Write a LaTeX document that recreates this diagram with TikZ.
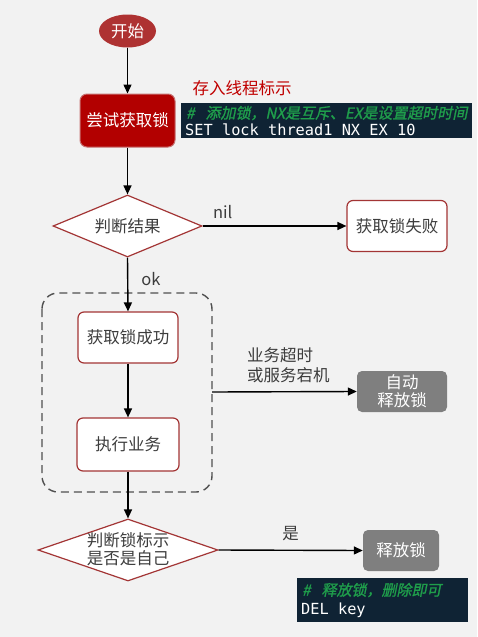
\documentclass[tikz,border=0pt]{standalone}
\usepackage{fontspec}
\setmainfont{Noto Sans CJK SC}
\newfontfamily\cjk{Noto Sans CJK SC}
\newfontfamily\cjkit[FakeSlant=0.2,FakeBold=1.2]{Noto Sans CJK SC}
\newfontfamily\codefont{DejaVu Sans Mono}
\usetikzlibrary{shapes.geometric,arrows.meta}
\definecolor{bg}{HTML}{F2F2F2}
\definecolor{darkred}{HTML}{B20000}
\definecolor{ellred}{HTML}{AE3232}
\definecolor{boxborder}{HTML}{A33535}
\definecolor{codebg}{HTML}{0F2334}
\definecolor{codegreen}{HTML}{1F9E4B}
\definecolor{txtgray}{HTML}{3C3C3C}
\definecolor{labred}{HTML}{C00000}
\definecolor{graybox}{HTML}{7F7F7F}
\tikzset{
  x=1pt,y=-1pt,
  every node/.style={font=\fontsize{16.5}{19}\selectfont\cjk, inner sep=0pt},
  whitebox/.style={draw=boxborder, line width=1.2pt, fill=white, rounded corners=6pt, text=txtgray, minimum width=100pt, minimum height=51pt},
  graybox/.style={fill=graybox, rounded corners=5pt, text=white, align=center},
  flow/.style={-{Triangle[length=9pt,width=8pt]}, line width=1.4pt, black},
  lab/.style={text=txtgray, font=\fontsize{16.5}{19}\selectfont\cjk}
}
\begin{document}
\begin{tikzpicture}
\fill[bg] (0,0) rectangle (477,637);
\useasboundingbox (0,0) rectangle (477,637);

% start
\node[ellipse, fill=ellred, text=white, minimum width=57pt, minimum height=33pt] (start) at (127.5,31) {开始};

% try lock
\node[fill=darkred, draw=ellred!70!white, line width=1pt, rounded corners=7pt, text=white, minimum width=95pt, minimum height=53pt] (try) at (127.5,120.5) {尝试获取锁};
\node[text=labred] (store) at (242,88) {存入线程标示};
\node[fill=codebg, minimum width=291pt, minimum height=35pt, anchor=north west] (code1) at (181,103) {};
\node[anchor=west, text=codegreen, font=\fontsize{15}{18}\selectfont\cjkit] (c1a) at (186,113) {\#\hspace{11pt}添加锁，NX是互斥、EX是设置超时时间};
\node[anchor=west, text=white, font=\fontsize{15.3}{18}\selectfont\codefont] (c1b) at (185,130) {SET lock thread1 NX EX 10};

% decision 1
\node[diamond, draw=boxborder, line width=1.2pt, fill=white, minimum width=149pt, minimum height=62pt] (dec1) at (127.5,226) {};
\node[text=txtgray] (dec1t) at (127.5,226) {判断结果};

% fail
\node[whitebox] (fail) at (397,226) {获取锁失败};

% dashed group
\draw[dash pattern=on 8pt off 5pt, line width=1.4pt, draw=txtgray!90, rounded corners=16pt] (42,293) rectangle (212,492);
\coordinate (grpR) at (212,392);

% success
\node[whitebox] (succ) at (128,337.5) {获取锁成功};
\node[whitebox, minimum width=102pt, minimum height=53pt] (exec) at (128,444.5) {执行业务};

% auto release
\node[graybox, minimum width=90pt, minimum height=41pt, font=\fontsize{16.5}{18}\selectfont\cjk] (auto) at (402,391.5) {自动\\释放锁};

% decision 2
\node[diamond, draw=boxborder, line width=1.2pt, fill=white, minimum width=180pt, minimum height=62pt] (dec2) at (128,550) {};
\node[text=txtgray, align=center, font=\fontsize{16.5}{18}\selectfont\cjk] (dec2t) at (128,549) {判断锁标示\\是否是自己};

% release
\node[graybox, minimum width=76pt, minimum height=41pt] (rel) at (401,550.5) {释放锁};
\node[fill=codebg, minimum width=171pt, minimum height=44pt, anchor=north west] (code2) at (297,578) {};
\node[anchor=west, text=codegreen, font=\fontsize{15}{18}\selectfont\cjkit] (c2a) at (302,590) {\#\hspace{11pt}释放锁，删除即可};
\node[anchor=west, text=white, font=\fontsize{15.3}{18}\selectfont\codefont] (c2b) at (301,610) {DEL key};

% connectors
\draw[flow] (start.south) -- (try.north);
\draw[flow] (try.south) -- (dec1.north);
\draw[flow] (dec1.east) -- node[lab, above=7pt, pos=0.14] (nil) {nil} (fail.west);
\draw[flow] (dec1.south) -- node[lab, right=13pt, pos=0.4] (ok) {ok} (succ.north);
\draw[flow] (succ.south) -- (exec.north);
\draw[flow] (grpR) -- (auto.west);
\node[lab, align=left, anchor=west, font=\fontsize{16.5}{20}\selectfont\cjk] (timeout) at (247,365) {业务超时\\或服务宕机};
\draw[flow] (exec.south) -- (dec2.north);
\draw[flow] (dec2.east) -- node[lab, above=9pt] (yes) {是} (rel.west);
\end{tikzpicture}
\end{document}
